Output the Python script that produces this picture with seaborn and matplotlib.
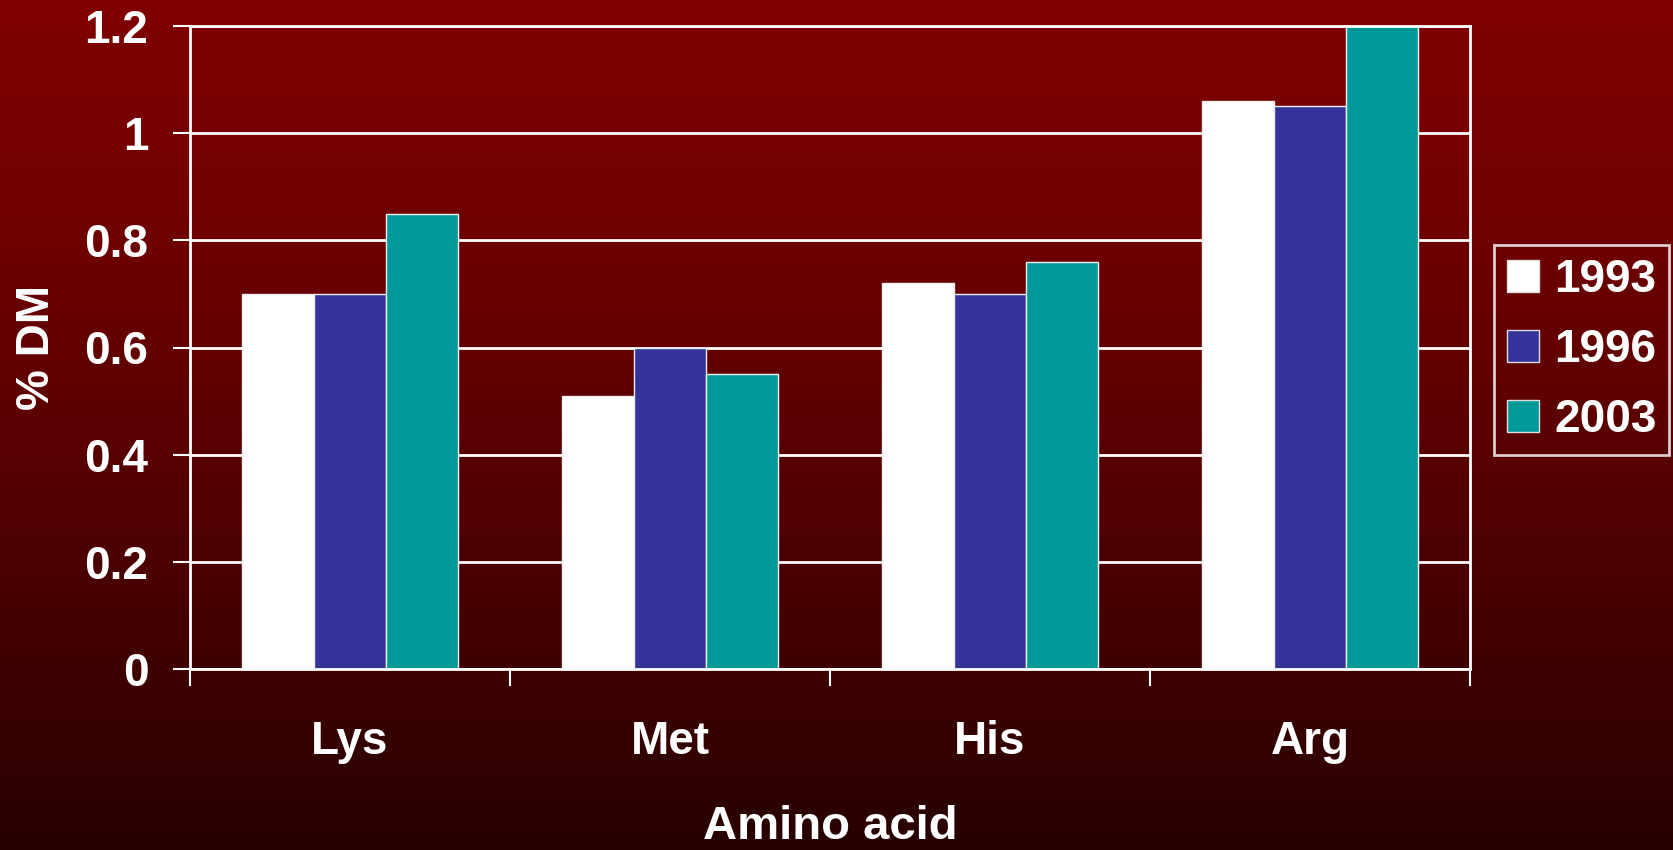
import numpy as np
import pandas as pd
import matplotlib
matplotlib.use("Agg")
import matplotlib.pyplot as plt
from matplotlib.ticker import FixedLocator
import seaborn as sns

amino_acids = ["Lys", "Met", "His", "Arg"]
years = ["1993", "1996", "2003"]
values_1993 = [0.70, 0.51, 0.72, 1.06]
values_1996 = [0.70, 0.60, 0.70, 1.05]
values_2003 = [0.85, 0.55, 0.76, 1.20]
y_ticks = [0, 0.2, 0.4, 0.6, 0.8, 1.0, 1.2]
y_tick_labels = ["0", "0.2", "0.4", "0.6", "0.8", "1", "1.2"]
bar_colors = ["#ffffff", "#333399", "#009999"]

df = pd.DataFrame({
    "amino": amino_acids * 3,
    "year": [y for y in years for _ in amino_acids],
    "value": values_1993 + values_1996 + values_2003,
})

sns.set_style("white")
plt.rcParams["font.family"] = ["Liberation Sans", "DejaVu Sans"]
plt.rcParams["font.weight"] = "bold"

fig = plt.figure(figsize=(16.73, 8.5), dpi=100)

# dark red vertical gradient behind everything
bg = fig.add_axes([0, 0, 1, 1], zorder=-10)
t = np.linspace(0, 1, 512)[:, None]
r = (127 - 88 * t ** 1.3) / 255.0
grad = np.dstack([r, np.zeros_like(r), np.zeros_like(r)])
grad = np.repeat(grad, 4, axis=1)
bg.imshow(grad, aspect="auto", extent=[0, 1, 0, 1], origin="upper")
bg.axis("off")

ax = fig.add_axes([190 / 1673, 1 - 669 / 850, 1280 / 1673, 643 / 850])
ax.set_facecolor("none")

sns.barplot(data=df, x="amino", y="value", hue="year", palette=bar_colors,
            width=0.675, saturation=1, edgecolor="#f0f0f0", linewidth=1.0,
            ax=ax, legend=True)

ax.set_xlim(-0.5, 3.5)
ax.set_ylim(0, 1.2)
ax.set_yticks(y_ticks)
ax.set_yticklabels(y_tick_labels)
ax.set_axisbelow(True)
ax.yaxis.grid(True, color="white", linewidth=2)
ax.xaxis.grid(False)

for side in ["left", "right", "top", "bottom"]:
    ax.spines[side].set_visible(True)
    ax.spines[side].set_color("white")
    ax.spines[side].set_linewidth(2)

# category boundary ticks on x, none at centers
ax.xaxis.set_minor_locator(FixedLocator([-0.5, 0.5, 1.5, 2.5, 3.5]))
ax.tick_params(axis="x", which="minor", length=12, width=1.5, color="white",
               direction="out", bottom=True)
ax.tick_params(axis="x", which="major", length=0, pad=37, labelsize=33,
               labelcolor="white", bottom=True)
ax.tick_params(axis="y", which="major", length=12, width=1.5, color="white",
               direction="out", pad=18, labelsize=33, labelcolor="white", left=True)
for lbl in ax.get_xticklabels() + ax.get_yticklabels():
    lbl.set_fontweight("bold")

ax.set_xlabel("Amino acid", fontsize=34, fontweight="bold", color="white")
ax.set_ylabel("% DM", fontsize=33, fontweight="bold", color="white")
ax.xaxis.set_label_coords(0.5, -0.2457)
ax.xaxis.label.set_va("center")
ax.yaxis.set_label_coords(-0.1195, 0.5)
ax.yaxis.label.set_va("center")

ax.get_legend().remove()
handles = [plt.Rectangle((0, 0), 1, 1, facecolor=c, edgecolor="#e0e0e0", linewidth=1)
           for c in bar_colors]
leg = fig.legend(handles, years, loc="upper left",
                 bbox_to_anchor=(1494 / 1673, 1 - 245 / 850),
                 bbox_transform=fig.transFigure, borderaxespad=0,
                 prop={"size": 33, "weight": "bold"}, labelcolor="white",
                 frameon=True, fancybox=False, handlelength=0.7,
                 handleheight=0.7, handletextpad=0.33, labelspacing=0.57,
                 borderpad=0.28)
frame = leg.get_frame()
frame.set_facecolor("none")
frame.set_edgecolor("white")
frame.set_linewidth(2)

fig.savefig("out.png", dpi=100)
